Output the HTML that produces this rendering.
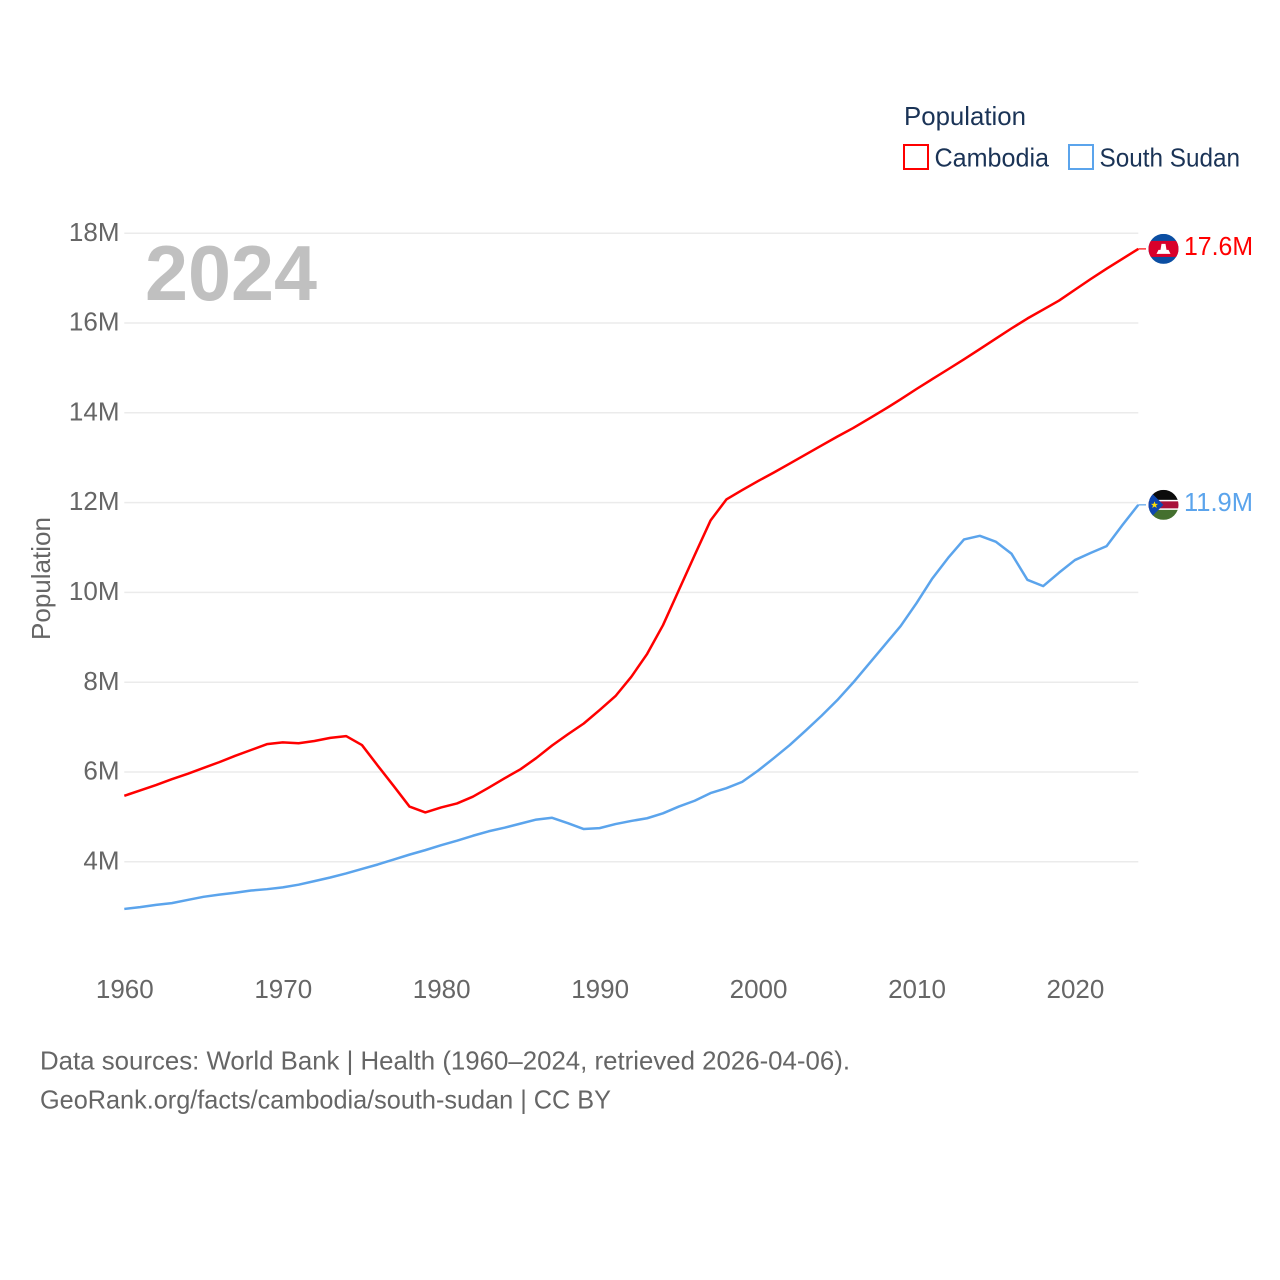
<!DOCTYPE html>
<html lang="en">
<head>
<meta charset="utf-8">
<title>Population: Cambodia and South Sudan</title>
<style>
html,body{margin:0;padding:0;background:#fff;}
svg{display:block;font-family:"Liberation Sans",sans-serif;}
</style>
</head>
<body>
<svg id="chart" xmlns="http://www.w3.org/2000/svg" width="1280" height="1280" viewBox="0 0 1280 1280">
  <defs>
    <clipPath id="flag-clip"><circle cx="0" cy="0" r="15"></circle></clipPath>
  </defs>
  <rect x="0" y="0" width="1280" height="1280" fill="#ffffff"></rect>

  <g id="grid"></g>
  <g id="y-ticks"></g>
  <g id="x-ticks"></g>

  <text x="145" y="300" font-size="78" font-weight="700" fill="#c0c0c0" textLength="172" lengthAdjust="spacingAndGlyphs">2024</text>
  <text transform="translate(50,640) rotate(-90)" font-size="26" fill="#666666" textLength="123" lengthAdjust="spacingAndGlyphs">Population</text>

  <g id="series"></g>

  <g id="flag-cambodia">
    <g clip-path="url(#flag-clip)">
      <rect x="-15" y="-15" width="30" height="30" fill="#0b4ea2"></rect>
      <rect x="-15" y="-8" width="30" height="16" fill="#d9002b"></rect>
      <polygon points="-7,5 7,5 5,1 3,1 2,-5 -2,-5 -3,1 -5,1" fill="#ffffff"></polygon>
    </g>
  </g>
  <g id="flag-south-sudan">
    <g clip-path="url(#flag-clip)">
      <rect x="-15" y="-15" width="30" height="30" fill="#ffffff"></rect>
      <rect x="-15" y="-15" width="30" height="10" fill="#0b0b0b"></rect>
      <rect x="-15" y="-3.5" width="30" height="7" fill="#a8123a"></rect>
      <rect x="-15" y="5" width="30" height="10" fill="#44702f"></rect>
      <polygon points="-15,-15 0,0 -15,15" fill="#0f47af"></polygon>
      <polygon points="-9,-3.5 -8,-1 -5.5,-1 -7.5,0.6 -6.7,3.2 -9,1.7 -11.3,3.2 -10.5,0.6 -12.5,-1 -10,-1" fill="#fcdd09"></polygon>
    </g>
  </g>
  <g id="end-labels"></g>

  <g>
    <text x="904" y="125" font-size="26" fill="#1a3356" textLength="122" lengthAdjust="spacingAndGlyphs">Population</text>
    <g>
      <rect x="904" y="145" width="24" height="24" fill="#ffffff" stroke="#ff0000" stroke-width="2"></rect>
      <text x="934.5" y="166.5" font-size="26" fill="#1a3356" textLength="114.5" lengthAdjust="spacingAndGlyphs">Cambodia</text>
    </g>
    <g>
      <rect x="1069" y="145" width="24" height="24" fill="#ffffff" stroke="#5ba4ec" stroke-width="2"></rect>
      <text x="1099.5" y="166.5" font-size="26" fill="#1a3356" textLength="140.5" lengthAdjust="spacingAndGlyphs">South Sudan</text>
    </g>
  </g>

  <text x="40" y="1069.5" font-size="26" fill="#666666" textLength="810" lengthAdjust="spacingAndGlyphs">Data sources: World Bank | Health (1960–2024, retrieved 2026-04-06).</text>
  <text x="40" y="1108.5" font-size="26" fill="#666666" textLength="571" lengthAdjust="spacingAndGlyphs">GeoRank.org/facts/cambodia/south-sudan | CC BY</text>
</svg>

<script>
const startYear = 1960;
const yTickValues = [4, 6, 8, 10, 12, 14, 16, 18];
const yTickLabels = ['4M', '6M', '8M', '10M', '12M', '14M', '16M', '18M'];
const xTickValues = [1960, 1970, 1980, 1990, 2000, 2010, 2020];
const xTickLabels = ['1960', '1970', '1980', '1990', '2000', '2010', '2020'];
const cambodiaValues = [
  5.47, 5.59, 5.71, 5.84, 5.96, 6.09, 6.22, 6.36, 6.49, 6.62,
  6.66, 6.64, 6.69, 6.76, 6.80, 6.60, 6.14, 5.69, 5.23, 5.10,
  5.21, 5.30, 5.45, 5.65, 5.86, 6.06, 6.31, 6.59, 6.84, 7.08,
  7.38, 7.69, 8.12, 8.63, 9.27, 10.05, 10.83, 11.60, 12.07, 12.28,
  12.48, 12.67, 12.87, 13.07, 13.27, 13.47, 13.66, 13.87, 14.08, 14.30,
  14.53, 14.75, 14.97, 15.19, 15.42, 15.65, 15.88, 16.10, 16.30, 16.50,
  16.74, 16.98, 17.21, 17.43, 17.65
];
const southSudanValues = [
  2.95, 2.99, 3.04, 3.08, 3.15, 3.22, 3.27, 3.31, 3.36, 3.39,
  3.43, 3.49, 3.57, 3.65, 3.74, 3.84, 3.94, 4.05, 4.16, 4.26,
  4.37, 4.47, 4.58, 4.68, 4.76, 4.85, 4.94, 4.98, 4.86, 4.73,
  4.75, 4.84, 4.91, 4.97, 5.08, 5.23, 5.36, 5.53, 5.64, 5.78,
  6.03, 6.31, 6.60, 6.92, 7.25, 7.60, 7.99, 8.41, 8.83, 9.25,
  9.76, 10.31, 10.77, 11.18, 11.26, 11.13, 10.86, 10.28, 10.14, 10.44,
  10.72, 10.88, 11.03, 11.50, 11.95
];
const endLabels = ['17.6M', '11.9M'];

const SVG_NS = 'http://www.w3.org/2000/svg';
const RED = '#ff0000';
const BLUE = '#5ba4ec';

function xScale(year) {
  return 124.3 + (year - 1960) * (1138.3 - 124.3) / 64;
}
function yScale(value) {
  return 861.8 - (value - 4) * 44.9;
}
function make(tag, attrs, text) {
  const el = document.createElementNS(SVG_NS, tag);
  for (const k in attrs) el.setAttribute(k, attrs[k]);
  if (text !== undefined) el.textContent = text;
  return el;
}

const gridGroup = document.getElementById('grid');
const yTickGroup = document.getElementById('y-ticks');
yTickValues.forEach(function (v, i) {
  const line = make('line', { x1: xScale(1960), x2: xScale(2024), y1: yScale(v), y2: yScale(v), stroke: '#ebebeb', 'stroke-width': 1.5 });
  
  
  gridGroup.appendChild(line);

  const label = make('text', { x: 119.5, y: yScale(v) + 7.6, 'text-anchor': 'end', 'font-size': 26, fill: '#666666' }, yTickLabels[i]);
  
  
  yTickGroup.appendChild(label);
});

const xTickGroup = document.getElementById('x-ticks');
xTickValues.forEach(function (year, i) {
  const label = make('text', { x: xScale(year) + 0.5, y: 998, 'text-anchor': 'middle', 'font-size': 26, fill: '#666666' }, xTickLabels[i]);
  
  
  xTickGroup.appendChild(label);
});

function pointsFor(values) {
  return values.map(function (v, i) {
    return xScale(startYear + i).toFixed(2) + ',' + yScale(v).toFixed(2);
  }).join(' ');
}

const seriesGroup = document.getElementById('series');
const labelGroup = document.getElementById('end-labels');

const cambodiaLine = make('polyline', { points: pointsFor(cambodiaValues), fill: 'none', stroke: RED, 'stroke-width': 2.5, 'stroke-linejoin': 'round' });


seriesGroup.appendChild(cambodiaLine);

const southSudanLine = make('polyline', { points: pointsFor(southSudanValues), fill: 'none', stroke: BLUE, 'stroke-width': 2.5, 'stroke-linejoin': 'round' });


seriesGroup.appendChild(southSudanLine);

const lastYear = startYear + cambodiaValues.length - 1;
const cambodiaEndY = yScale(cambodiaValues[cambodiaValues.length - 1]);
const southSudanEndY = yScale(southSudanValues[southSudanValues.length - 1]);

const cambodiaConnector = make('line', { x1: xScale(lastYear), x2: 1146, y1: cambodiaEndY, y2: cambodiaEndY, stroke: RED, 'stroke-width': 1.2 });


seriesGroup.appendChild(cambodiaConnector);

const southSudanConnector = make('line', { x1: xScale(lastYear), x2: 1146, y1: southSudanEndY, y2: southSudanEndY, stroke: BLUE, 'stroke-width': 1.2 });


seriesGroup.appendChild(southSudanConnector);

document.getElementById('flag-cambodia').setAttribute('transform', 'translate(1163.5,' + cambodiaEndY + ')');
document.getElementById('flag-south-sudan').setAttribute('transform', 'translate(1163.5,' + southSudanEndY + ')');

const cambodiaLabel = make('text', { x: 1184, y: cambodiaEndY + 6, 'font-size': 26, fill: RED, textLength: 69, lengthAdjust: 'spacingAndGlyphs' }, endLabels[0]);


labelGroup.appendChild(cambodiaLabel);

const southSudanLabel = make('text', { x: 1184, y: southSudanEndY + 6, 'font-size': 26, fill: BLUE, textLength: 69, lengthAdjust: 'spacingAndGlyphs' }, endLabels[1]);


labelGroup.appendChild(southSudanLabel);
</script>
</body>
</html>
